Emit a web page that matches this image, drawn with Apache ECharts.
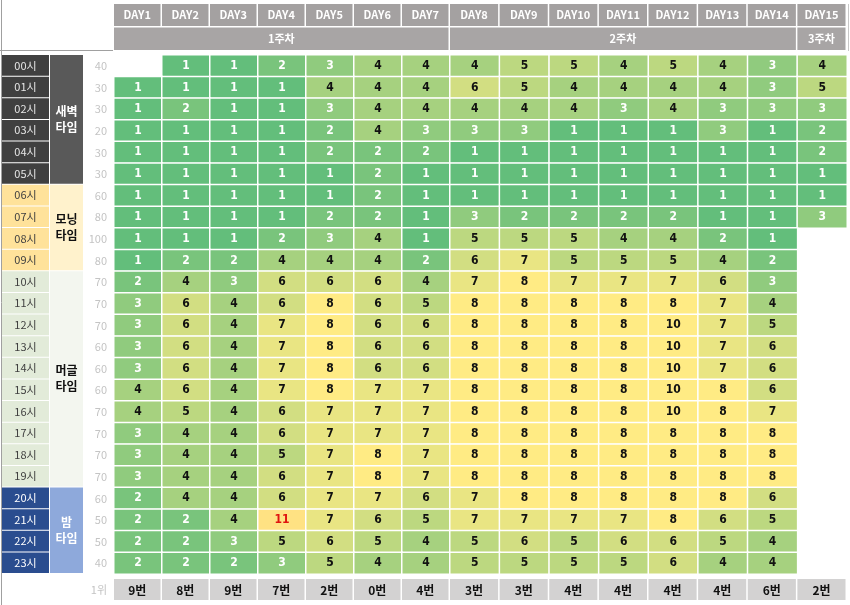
<!DOCTYPE html>
<html><head><meta charset="utf-8">
<script src="https://cdn.jsdelivr.net/npm/echarts@6/dist/echarts.min.js"></script>
<style>html,body{margin:0;padding:0;background:#fff}#c{width:850px;height:605px}</style>
</head><body><div id="c"></div>
<script>
// ---------- DATA ----------
const days = ['DAY1','DAY2','DAY3','DAY4','DAY5','DAY6','DAY7','DAY8','DAY9','DAY10','DAY11','DAY12','DAY13','DAY14','DAY15'];
const hours = ['00시','01시','02시','03시','04시','05시','06시','07시','08시','09시','10시','11시','12시','13시','14시','15시','16시','17시','18시','19시','20시','21시','22시','23시'];
const weeks = ['1주차','2주차','3주차'];
const weekFirstDay = [0,7,14];
const weekLastDay = [6,13,14];
const hourCounts = [40,30,30,20,30,30,60,80,100,80,70,70,70,60,60,60,70,70,70,70,60,50,50,40];
const groupNames = ['새벽\n타임','모닝\n타임','머글\n타임','밤\n타임'];
const groupFirstHour = [0,6,10,20];
const groupLastHour = [5,9,19,23];
const rankLabel = '1위';
const topRank = ['9번','8번','9번','7번','2번','0번','4번','3번','3번','4번','4번','4번','4번','6번','2번'];
// rows = hours (00시..23시), columns = DAY1..DAY15 ; null = blank cell
const values = [
 [null,1,1,2,3,4,4,4,5,5,4,5,4,3,4],
 [1,1,1,1,4,4,4,6,5,4,4,4,4,3,5],
 [1,2,1,1,3,4,4,4,4,4,3,4,3,3,3],
 [1,1,1,1,2,4,3,3,3,1,1,1,3,1,2],
 [1,1,1,1,2,2,2,1,1,1,1,1,1,1,2],
 [1,1,1,1,1,2,1,1,1,1,1,1,1,1,1],
 [1,1,1,1,1,2,1,1,1,1,1,1,1,1,1],
 [1,1,1,1,2,2,1,3,2,2,2,2,1,1,3],
 [1,1,1,2,3,4,1,5,5,5,4,4,2,1,null],
 [1,2,2,4,4,4,2,6,7,5,5,5,4,2,null],
 [2,4,3,6,6,6,4,7,8,7,7,7,6,3,null],
 [3,6,4,6,8,6,5,8,8,8,8,8,7,4,null],
 [3,6,4,7,8,6,6,8,8,8,8,10,7,5,null],
 [3,6,4,7,8,6,6,8,8,8,8,10,7,6,null],
 [3,6,4,7,8,6,6,8,8,8,8,10,7,6,null],
 [4,6,4,7,8,7,7,8,8,8,8,10,8,6,null],
 [4,5,4,6,7,7,7,8,8,8,8,10,8,7,null],
 [3,4,4,6,7,7,7,8,8,8,8,8,8,8,null],
 [3,4,4,5,7,8,7,8,8,8,8,8,8,8,null],
 [3,4,4,6,7,8,7,8,8,8,8,8,8,8,null],
 [2,4,4,6,7,7,6,7,8,8,8,8,8,6,null],
 [2,2,4,11,7,6,5,7,7,7,7,8,6,5,null],
 [2,2,3,5,6,5,4,5,6,5,6,6,5,4,null],
 [2,2,2,3,5,4,4,5,5,5,5,6,4,4,null]
];

// ---------- STYLE ----------
const scaleColors = ['#63BE7B','#79C47C','#90CB7E','#A6D17F','#BCD880','#D2DE82','#E9E583','#FFEB84','#FFEB84','#FFEB84','#FFE283'];
const groupStyle = [
  {hourBg:'#404040', hourText:'#E6E6E6', bg:'#595959', text:'#FFFFFF'},
  {hourBg:'#FFE29A', hourText:'#404040', bg:'#FFF2CC', text:'#111111'},
  {hourBg:'#E2EBD9', hourText:'#404040', bg:'#F3F6EF', text:'#111111'},
  {hourBg:'#2A4D8F', hourText:'#FFFFFF', bg:'#8EA9DB', text:'#FFFFFF'}
];
const KR = "'Noto Sans CJK KR','Noto Sans',sans-serif";
const NUM = "'Liberation Sans Narrow','DejaVu Sans Condensed','Liberation Sans',sans-serif";
const TOP = 55, HEIGHT = 519;
const segments = [{from:0,to:6,left:114,width:336},{from:7,to:14,left:450,width:397}];

const grids = [], xAxes = [], yAxes = [], series = [];
const hid = {axisLine:{show:false},axisTick:{show:false},axisLabel:{show:false},splitLine:{show:false}};
function addGrid(g, xa, ya){
  grids.push(g); const gi = grids.length-1;
  xAxes.push(Object.assign({type:'category'}, hid, xa, {gridIndex:gi}));
  yAxes.push(Object.assign({type:'category'}, hid, ya, {gridIndex:gi}));
  return gi;
}
function groupOfHour(h){ for(let g=0;g<groupFirstHour.length;g++){ if(h>=groupFirstHour[g]&&h<=groupLastHour[g]) return g; } return 0; }

// left: hour labels
let gi = addGrid({left:2,width:48,top:TOP,height:HEIGHT},{data:['h']},{data:hours,inverse:true});
series.push({type:'custom',xAxisIndex:gi,yAxisIndex:gi,silent:true,
  data:hours.map((h,i)=>[0,i]),
  renderItem:(p,api)=>{
    const c=api.coord([api.value(0),api.value(1)]), s=api.size([1,1]);
    const st=groupStyle[groupOfHour(p.dataIndex)];
    return {type:'group',children:[
      {type:'rect',shape:{x:c[0]-s[0]/2,y:c[1]-s[1]/2,width:s[0]-1,height:s[1]-1},style:{fill:st.hourBg}},
      {type:'text',style:{x:c[0]-0.5,y:c[1]-0.5,text:hours[p.dataIndex],fill:st.hourText,font:'11px '+KR,align:'center',verticalAlign:'middle'}}
    ]};
  }});
// left: group labels
gi = addGrid({left:50,width:33,top:TOP,height:HEIGHT},{data:['g']},{data:hours,inverse:true});
series.push({type:'custom',xAxisIndex:gi,yAxisIndex:gi,silent:true,encode:{x:0,y:[1,2]},
  data:groupNames.map((n,i)=>[0,groupFirstHour[i],groupLastHour[i]]),
  renderItem:(p,api)=>{
    const a=api.coord([0,api.value(1)]), b=api.coord([0,api.value(2)]), s=api.size([1,1]);
    const st=groupStyle[p.dataIndex];
    const y0=a[1]-s[1]/2, h=b[1]-a[1]+s[1]-1;
    return {type:'group',children:[
      {type:'rect',shape:{x:a[0]-s[0]/2,y:y0,width:s[0],height:h},style:{fill:st.bg}},
      {type:'text',style:{x:a[0],y:y0+h/2,text:groupNames[p.dataIndex],fill:st.text,font:'bold 12px '+KR,lineHeight:16,align:'center',verticalAlign:'middle'}}
    ]};
  }});

const heatIdx = [];
segments.forEach((seg,si)=>{
  const segDays = days.slice(seg.from, seg.to+1);
  // header (DAY row + week row)
  let g = addGrid({left:seg.left,width:seg.width,top:4,height:47},{data:segDays},{data:['d','w'],inverse:true});
  series.push({type:'custom',xAxisIndex:g,yAxisIndex:g,silent:true,
    data:segDays.map((d,i)=>[i,0]),
    renderItem:(p,api)=>{
      const c=api.coord([api.value(0),api.value(1)]), s=api.size([1,1]);
      return {type:'group',children:[
        {type:'rect',shape:{x:c[0]-s[0]/2,y:c[1]-s[1]/2,width:s[0]-1.5,height:s[1]-1.5},style:{fill:'#A4A1A1'}},
        {type:'text',style:{x:c[0]-0.75,y:c[1]-0.5,text:segDays[p.dataIndex],fill:'#FFFFFF',font:'bold 11px '+KR,align:'center',verticalAlign:'middle'}}
      ]};
    }});
  const segWeeks = [];
  weeks.forEach((w,k)=>{ if(weekFirstDay[k]>=seg.from && weekLastDay[k]<=seg.to) segWeeks.push(k); });
  series.push({type:'custom',xAxisIndex:g,yAxisIndex:g,silent:true,encode:{x:[0,1],y:2},
    data:segWeeks.map(k=>[weekFirstDay[k]-seg.from,weekLastDay[k]-seg.from,1]),
    renderItem:(p,api)=>{
      const a=api.coord([api.value(0),api.value(2)]), b=api.coord([api.value(1),api.value(2)]), s=api.size([1,1]);
      const x0=a[0]-s[0]/2, w=b[0]-a[0]+s[0]-1.5;
      return {type:'group',children:[
        {type:'rect',shape:{x:x0,y:a[1]-s[1]/2,width:w,height:s[1]-1},style:{fill:'#A8A5A5'}},
        {type:'text',style:{x:x0+w/2,y:a[1]-0.5,text:weeks[segWeeks[p.dataIndex]],fill:'#FFFFFF',font:'bold 11px '+KR,align:'center',verticalAlign:'middle'}}
      ]};
    }});
  // main heatmap
  g = addGrid({left:seg.left,width:seg.width,top:TOP,height:HEIGHT},{data:segDays},
    {data:hours,inverse:true,axisLabel:{show:si===0,color:'#C4C4C4',fontSize:11,fontFamily:KR,margin:7,formatter:(v,i)=>String(hourCounts[i])}});
  const hd = [];
  hours.forEach((h,r)=>{ segDays.forEach((d,c)=>{ const v=values[r][seg.from+c]; if(v!==null) hd.push([c,r,v]); }); });
  heatIdx.push(series.length);
  series.push({type:'heatmap',xAxisIndex:g,yAxisIndex:g,data:hd,silent:true,
    itemStyle:{borderColor:'#FFFFFF',borderWidth:1.5},
    emphasis:{disabled:true},
    label:{show:true,fontFamily:NUM,fontWeight:'bold',fontSize:12,
      formatter:p=>{const v=p.value[2];const k=v>=11?'r':(v<=3?'w':'b');return '{'+k+'|'+v+'}';},
      rich:{w:{color:'#FFFFFF',fontFamily:NUM,fontWeight:'bold',fontSize:12},
            b:{color:'#111111',fontFamily:NUM,fontWeight:'bold',fontSize:12},
            r:{color:'#E0140F',fontFamily:NUM,fontWeight:'bold',fontSize:12}}}});
  // rank row
  g = addGrid({left:seg.left,width:seg.width,top:579,height:21},{data:segDays},
    {data:[rankLabel],axisLabel:{show:si===0,color:'#C4C4C4',fontSize:11,fontFamily:KR,margin:7}});
  series.push({type:'custom',xAxisIndex:g,yAxisIndex:g,silent:true,
    data:segDays.map((d,i)=>[i,0]),
    renderItem:(p,api)=>{
      const c=api.coord([api.value(0),api.value(1)]), s=api.size([1,1]);
      return {type:'group',children:[
        {type:'rect',shape:{x:c[0]-s[0]/2,y:c[1]-s[1]/2,width:s[0]-1.5,height:s[1]},style:{fill:'#D3D2D2'}},
        {type:'text',style:{x:c[0]-0.75,y:c[1]+0.5,text:topRank[seg.from+p.dataIndex],fill:'#111111',font:'bold 12px '+KR,align:'center',verticalAlign:'middle'}}
      ]};
    }});
});

const chart = echarts.init(document.getElementById('c'),null,{renderer:'canvas'});
chart.setOption({
  animation:false,
  backgroundColor:'#FFFFFF',
  grid:grids, xAxis:xAxes, yAxis:yAxes,
  visualMap:{type:'continuous',show:false,min:1,max:11,dimension:2,seriesIndex:heatIdx,inRange:{color:scaleColors}},
  graphic:[
    {type:'line',shape:{x1:1.5,y1:0,x2:1.5,y2:605},style:{stroke:'#A0A0A0',lineWidth:1},silent:true},
    {type:'line',shape:{x1:0,y1:50.5,x2:113,y2:50.5},style:{stroke:'#A0A0A0',lineWidth:1},silent:true},
    {type:'line',shape:{x1:848.5,y1:4,x2:848.5,y2:51},style:{stroke:'#C8C8C8',lineWidth:1},silent:true}
  ],
  series:series
});
</script></body></html>
